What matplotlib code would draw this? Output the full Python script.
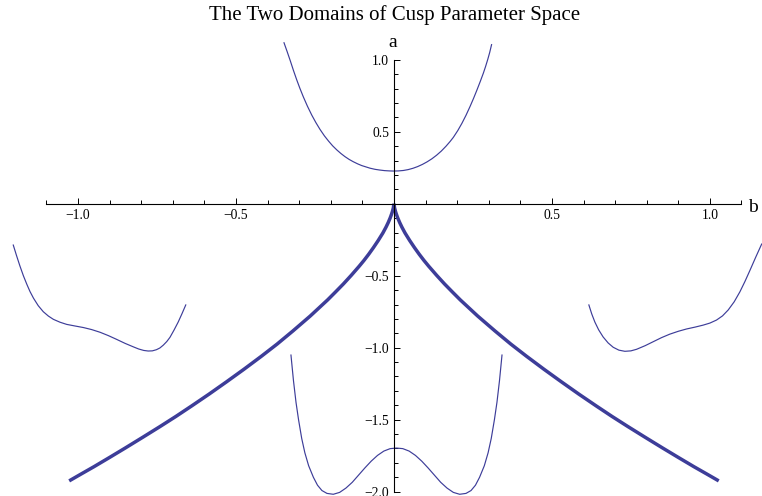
import numpy as np
import matplotlib
matplotlib.use("Agg")
import matplotlib.pyplot as plt

# cusp bifurcation curve (thick)
cusp_right_b = [0, 0.002, 0.005, 0.008, 0.012, 0.018, 0.025, 0.035, 0.05, 0.065, 0.08,
                0.095, 0.11, 0.135, 0.16, 0.185, 0.21, 0.265, 0.32, 0.37, 0.42, 0.475,
                0.53, 0.585, 0.64, 0.69, 0.74, 0.795, 0.85, 0.90, 0.95, 0.99, 1.028]
cusp_right_a = [0, -0.03, -0.055, -0.075, -0.099, -0.13, -0.162, -0.203, -0.256, -0.305, -0.351,
                -0.394, -0.434, -0.497, -0.557, -0.613, -0.668, -0.780, -0.884, -0.975, -1.06, -1.150,
                -1.237, -1.322, -1.404, -1.477, -1.547, -1.622, -1.696, -1.762, -1.827, -1.877, -1.925]
cusp_left_b = [0, -0.002, -0.005, -0.008, -0.012, -0.018, -0.025, -0.035, -0.05, -0.065, -0.08,
               -0.095, -0.11, -0.135, -0.16, -0.185, -0.21, -0.265, -0.32, -0.37, -0.42, -0.475,
               -0.53, -0.585, -0.64, -0.69, -0.74, -0.795, -0.85, -0.90, -0.95, -0.99, -1.028]
cusp_left_a = [0, -0.03, -0.055, -0.075, -0.099, -0.13, -0.162, -0.203, -0.256, -0.305, -0.351,
               -0.394, -0.434, -0.497, -0.557, -0.613, -0.668, -0.780, -0.884, -0.975, -1.06, -1.150,
               -1.237, -1.322, -1.404, -1.477, -1.547, -1.622, -1.696, -1.762, -1.827, -1.877, -1.925]

# small potential sketches (thin)
top_b = [-0.348, -0.338, -0.328, -0.318, -0.308, -0.298, -0.287, -0.274, -0.260, -0.247,
         -0.234, -0.220, -0.207, -0.194, -0.181, -0.168, -0.155, -0.142, -0.129, -0.115,
         -0.102, -0.089, -0.076, -0.060, -0.045, -0.030, -0.015, -0.002, 0.015, 0.030,
         0.045, 0.060, 0.075, 0.090, 0.105, 0.120, 0.135, 0.150, 0.165, 0.178,
         0.188, 0.202, 0.215, 0.228, 0.241, 0.252, 0.262, 0.273, 0.283, 0.290,
         0.297, 0.303, 0.309]
top_a = [1.118, 1.056, 0.992, 0.925, 0.862, 0.803, 0.743, 0.678, 0.615, 0.563,
         0.516, 0.471, 0.435, 0.402, 0.374, 0.349, 0.327, 0.308, 0.292, 0.277,
         0.265, 0.256, 0.247, 0.239, 0.234, 0.230, 0.228, 0.227, 0.228, 0.231,
         0.237, 0.246, 0.258, 0.273, 0.291, 0.312, 0.337, 0.366, 0.400, 0.433,
         0.461, 0.508, 0.558, 0.614, 0.676, 0.732, 0.786, 0.848, 0.907, 0.953,
         1.003, 1.050, 1.105]

left_b = [-1.205, -1.195, -1.184, -1.173, -1.162, -1.152, -1.141, -1.126, -1.110, -1.094,
          -1.078, -1.057, -1.036, -1.010, -0.983, -0.957, -0.930, -0.904, -0.878, -0.851,
          -0.825, -0.808, -0.792, -0.778, -0.765, -0.752, -0.741, -0.730, -0.719, -0.709,
          -0.696, -0.683, -0.671, -0.659]
left_a = [-0.287, -0.358, -0.432, -0.500, -0.560, -0.610, -0.656, -0.708, -0.750, -0.780,
          -0.803, -0.823, -0.838, -0.849, -0.860, -0.874, -0.893, -0.916, -0.942, -0.970,
          -0.994, -1.009, -1.019, -1.023, -1.022, -1.014, -1.002, -0.982, -0.957, -0.928,
          -0.877, -0.822, -0.764, -0.703]

right_b = [0.617, 0.626, 0.636, 0.648, 0.662, 0.678, 0.694, 0.712, 0.731, 0.750,
           0.768, 0.795, 0.821, 0.847, 0.873, 0.900, 0.926, 0.953, 0.979, 1.000,
           1.021, 1.040, 1.058, 1.077, 1.095, 1.111, 1.127, 1.145, 1.164]
right_a = [-0.703, -0.765, -0.822, -0.876, -0.925, -0.967, -0.997, -1.017, -1.025, -1.022,
           -1.011, -0.986, -0.958, -0.930, -0.906, -0.886, -0.870, -0.857, -0.843, -0.829,
           -0.808, -0.779, -0.738, -0.681, -0.612, -0.540, -0.462, -0.372, -0.280]

bottom_b = [-0.326, -0.318, -0.310, -0.302, -0.292, -0.282, -0.270, -0.255, -0.242, -0.228,
            -0.212, -0.192, -0.172, -0.152, -0.132, -0.112, -0.092, -0.072, -0.052, -0.032,
            -0.012, 0.008, 0.028, 0.048, 0.068, 0.088, 0.108, 0.128, 0.148, 0.168,
            0.188, 0.208, 0.228, 0.244, 0.258, 0.271, 0.286, 0.298, 0.308, 0.318,
            0.326, 0.334, 0.342]
bottom_a = [-1.051, -1.230, -1.380, -1.500, -1.630, -1.730, -1.820, -1.900, -1.955, -1.992,
            -2.012, -2.018, -2.005, -1.975, -1.935, -1.885, -1.835, -1.788, -1.748, -1.718,
            -1.701, -1.697, -1.701, -1.718, -1.748, -1.788, -1.835, -1.885, -1.935, -1.975,
            -2.005, -2.018, -2.012, -1.992, -1.955, -1.900, -1.820, -1.730, -1.630, -1.500,
            -1.380, -1.230, -1.051]

x_major = [-1.0, -0.5, 0.5, 1.0]
x_labels = ["\u22121.0", "\u22120.5", "0.5", "1.0"]
y_major = [-2.0, -1.5, -1.0, -0.5, 0.5, 1.0]
y_labels = ["\u22122.0", "\u22121.5", "\u22121.0", "\u22120.5", "0.5", "1.0"]

color = "#3d3d99"
serif = "Liberation Serif"

fig = plt.figure(figsize=(7.62, 4.96), dpi=100)
ax = fig.add_axes([0, 0, 1, 1])
ax.patch.set_alpha(0)

ax.plot(cusp_left_b, cusp_left_a, color=color, lw=2.5, solid_capstyle="butt")
ax.plot(cusp_right_b, cusp_right_a, color=color, lw=2.5, solid_capstyle="butt")
for bb, aa in [(top_b, top_a), (left_b, left_a), (right_b, right_a), (bottom_b, bottom_a)]:
    ax.plot(bb, aa, color=color, lw=0.85)

ax.set_xlim(-1.247, 1.165)
ax.set_ylim(-2.03, 1.415)

for s in ["top", "right"]:
    ax.spines[s].set_visible(False)
ax.spines["bottom"].set_position(("data", 0))
ax.spines["left"].set_position(("data", 0))
ax.spines["bottom"].set_bounds(-1.1, 1.1)
ax.spines["left"].set_bounds(-2.0, 1.0)
ax.spines["bottom"].set_linewidth(0.8)
ax.spines["left"].set_linewidth(0.8)

ax.set_xticks(x_major)
ax.set_xticklabels(x_labels, fontfamily=serif, fontsize=9.8)
ax.set_xticks(np.round(np.arange(-1.1, 1.101, 0.1), 2), minor=True)
ax.set_yticks(y_major)
ax.set_yticklabels(y_labels, fontfamily=serif, fontsize=9.8)
ax.set_yticks(np.round(np.arange(-2.0, 1.001, 0.1), 2), minor=True)
ax.tick_params(which="major", direction="in", length=4.5, width=0.7)
ax.tick_params(which="minor", direction="in", length=2.6, width=0.7)
ax.tick_params(axis="x", pad=4)
ax.tick_params(axis="y", pad=3.5)

ax.text(1.12, -0.058, "b", fontfamily=serif, fontsize=14, ha="left", va="baseline")
ax.text(-0.003, 1.088, "a", fontfamily=serif, fontsize=14, ha="center", va="baseline")
fig.text(395 / 762, 1 - 20 / 496, "The Two Domains of Cusp Parameter Space",
         fontfamily=serif, fontsize=15, ha="center", va="baseline")

fig.savefig("out.png", dpi=100)
